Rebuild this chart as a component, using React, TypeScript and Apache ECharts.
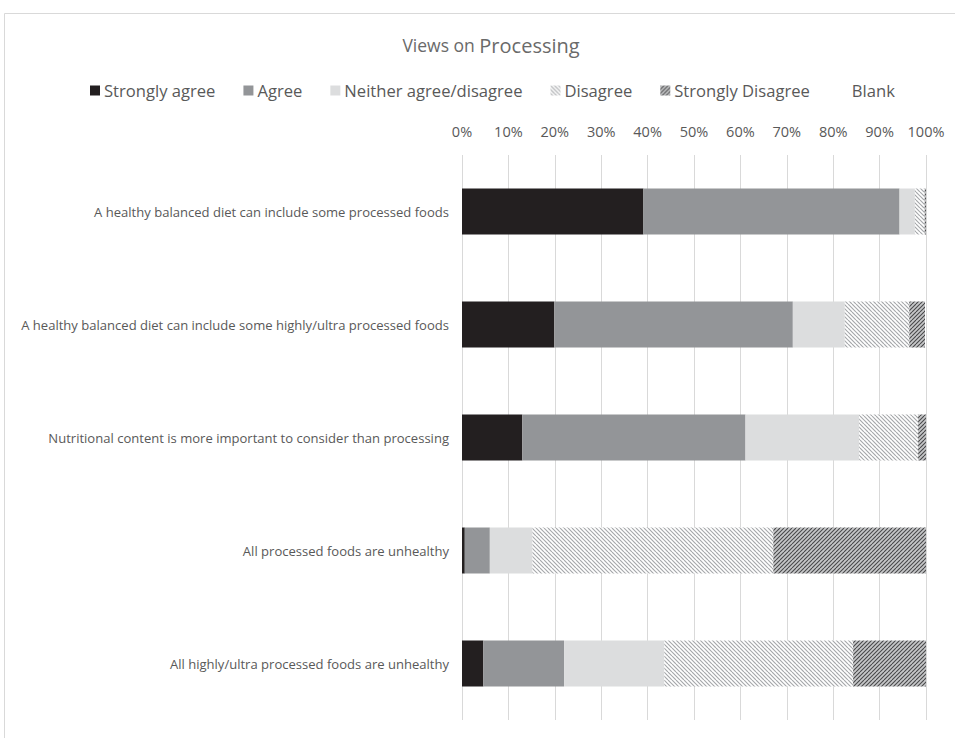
import React, { useEffect, useRef } from "react";
import * as echarts from "echarts";

const categories = [
  "A healthy balanced diet can include some processed foods",
  "A healthy balanced diet can include some highly/ultra processed foods",
  "Nutritional content is more important to consider than processing",
  "All processed foods are unhealthy",
  "All highly/ultra processed foods are unhealthy",
];

const stronglyAgree = [39.1, 19.9, 13.0, 0.6, 4.6];
const agree = [55.2, 51.4, 48.1, 5.4, 17.4];
const neither = [3.3, 11.2, 24.5, 9.2, 21.6];
const disagree = [2.1, 13.9, 12.7, 51.9, 40.7];
const stronglyDisagree = [0.3, 3.4, 1.7, 32.9, 15.7];
const blank = [0, 0.2, 0, 0, 0];

const tickLabels = ["0%", "10%", "20%", "30%", "40%", "50%", "60%", "70%", "80%", "90%", "100%"];

const FONT = "Open Sans";
const TEXT = "#595959";

// Diagonal hatch tile used as a fill pattern
function hatch(bg: string, fg: string, dir: 1 | -1, period: number, lw: number) {
  const size = period * 2;
  const c = document.createElement("canvas");
  c.width = size;
  c.height = size;
  const ctx = c.getContext("2d")!;
  ctx.fillStyle = bg;
  ctx.fillRect(0, 0, size, size);
  ctx.strokeStyle = fg;
  ctx.lineWidth = lw;
  ctx.beginPath();
  for (let k = -3; k <= 3; k++) {
    if (dir === 1) {
      ctx.moveTo(k * period, 0);
      ctx.lineTo(k * period + size, size);
    } else {
      ctx.moveTo(k * period, size);
      ctx.lineTo(k * period + size, 0);
    }
  }
  ctx.stroke();
  return c;
}

export default function App() {
  const ref = useRef<HTMLDivElement>(null);

  useEffect(() => {
    if (!ref.current) return;
    const chart = echarts.init(ref.current, undefined, { renderer: "svg" });

    const disagreeFill = { image: hatch("#ffffff", "#a7a9ac", 1, 4, 1.2), repeat: "repeat" };
    const strongDisFill = { image: hatch("#c6c7c9", "#4a4a4c", -1, 4, 1.1), repeat: "repeat" };

    const mk = (name: string, data: number[], color: any) => ({
      name,
      type: "bar",
      stack: "total",
      barWidth: 46,
      data,
      itemStyle: { color },
      emphasis: { disabled: true },
    });

    chart.setOption({
      animation: false,
      title: {
        text: "{a|Views on }{b|Processing}",
        left: 486,
        textAlign: "center",
        top: 30,
        textStyle: {
          fontWeight: "normal",
          rich: {
            a: { fontFamily: FONT, fontSize: 17.5, fontWeight: "normal", color: "#6a6a6a" },
            b: { fontFamily: FONT, fontSize: 20, fontWeight: "normal", color: "#6a6a6a" },
          },
        },
      },
      legend: {
        top: 77,
        left: 85,
        itemWidth: 10,
        itemHeight: 10,
        itemGap: 28,
        icon: "rect",
        selectedMode: false,
        textStyle: { fontFamily: FONT, fontSize: 16.6, color: TEXT, padding: [0, 0, 0, -1] },
        data: ["Strongly agree", "Agree", "Neither agree/disagree", "Disagree", "Strongly Disagree", "Blank"],
      },
      grid: { left: 462, right: 29, top: 155, bottom: 18 },
      xAxis: {
        type: "value",
        position: "top",
        min: 0,
        max: 100,
        interval: 10,
        axisLine: { show: false },
        axisTick: { show: false },
        axisLabel: {
          margin: 16,
          fontFamily: FONT,
          fontSize: 14.5,
          color: TEXT,
          formatter: (v: number) => tickLabels[Math.round(v / 10)],
        },
        splitLine: { lineStyle: { color: "#d9d9d9", width: 1 } },
      },
      yAxis: {
        type: "category",
        inverse: true,
        data: categories,
        axisLine: { show: false },
        axisTick: { show: false },
        axisLabel: { margin: 13, fontFamily: FONT, fontSize: 13.05, color: TEXT },
      },
      graphic: [
        {
          type: "rect",
          shape: { x: 4.5, y: 13.5, width: 1000, height: 800 },
          style: { fill: "none", stroke: "#d9d9d9", lineWidth: 1 },
          silent: true,
        },
      ],
      series: [
        mk("Strongly agree", stronglyAgree, "#231f20"),
        mk("Agree", agree, "#939598"),
        mk("Neither agree/disagree", neither, "#dcddde"),
        mk("Disagree", disagree, disagreeFill),
        mk("Strongly Disagree", stronglyDisagree, strongDisFill),
        mk("Blank", blank, "#ffffff"),
      ],
    });

    return () => chart.dispose();
  }, []);

  return (
    <div
      ref={ref}
      style={{ position: "absolute", left: 0, top: 0, width: 955, height: 738, background: "#ffffff" }}
    />
  );
}
